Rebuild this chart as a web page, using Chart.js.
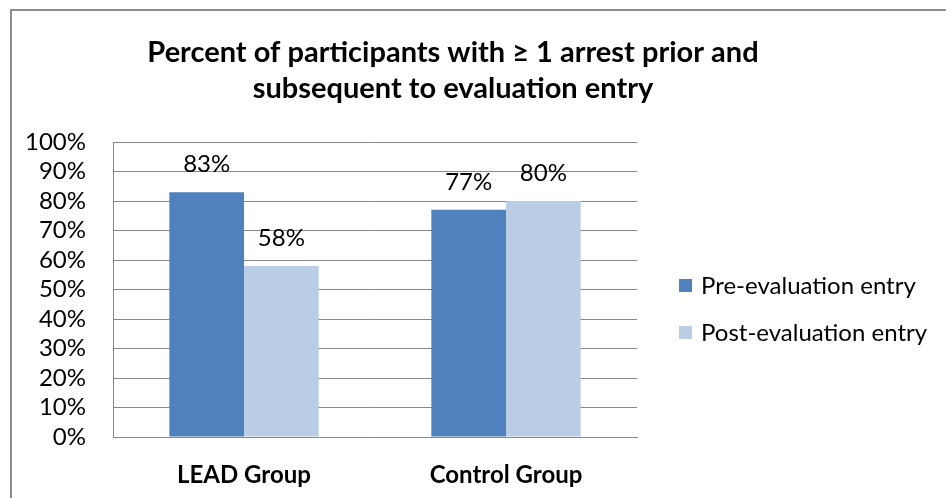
<!DOCTYPE html>
<html>
<head>
<meta charset="utf-8">
<script src="https://cdn.jsdelivr.net/npm/chart.js@4/dist/chart.umd.min.js"></script>
<style>
    html, body { margin: 0; padding: 0; background: #fff; }
    #wrap { position: relative; width: 946px; height: 498px; overflow: hidden; }
    #frame { position: absolute; left: 10px; top: 9px; width: 1000px; height: 600px;
             border-top: 2px solid #8c8c8c; border-left: 2px solid #8c8c8c; }
    canvas { position: absolute; left: 0; top: 0; }
</style>
</head>
<body>
<div id="wrap">
    <div id="frame"></div>
    <canvas id="arrestChart" width="946" height="498"></canvas>
</div>
<script>

const titleLines = ["Percent of participants with \u2265 1 arrest prior and", "subsequent to evaluation entry"];
const categories = ["LEAD Group", "Control Group"];
const seriesNames = ["Pre-evaluation entry", "Post-evaluation entry"];
const preValues = [83, 77];
const postValues = [58, 80];
const seriesColors = ["#4F81BD", "#B9CDE5"];
const yTicks = [0, 10, 20, 30, 40, 50, 60, 70, 80, 90, 100];

const FONT = "Lato, 'Open Sans', sans-serif";

// value labels over each bar
const barLabels = {
    id: "barLabels",
    afterDatasetsDraw(chart) {
        const ctx = chart.ctx;
        ctx.save();
        ctx.font = "24px " + FONT;
        ctx.fillStyle = "#000";
        ctx.textAlign = "center";
        ctx.textBaseline = "middle";
        chart.data.datasets.forEach((ds, i) => {
            chart.getDatasetMeta(i).data.forEach((bar, j) => {
                ctx.fillText(ds.data[j] + "%", bar.x, bar.y - 28);
            });
        });
        ctx.restore();
    }
};

// title and legend placed like the original
const decor = {
    id: "decor",
    afterDraw(chart) {
        const ctx = chart.ctx;
        ctx.save();
        ctx.fillStyle = "#000";
        ctx.textAlign = "center";
        ctx.textBaseline = "middle";
        ctx.font = "bold 29px " + FONT;
        titleLines.forEach((t, i) => ctx.fillText(t, 453, 53 + i * 36));

        ctx.font = "24px " + FONT;
        ctx.textAlign = "left";
        chart.data.datasets.forEach((ds, i) => {
            const y = 285 + i * 47;
            ctx.fillStyle = ds.backgroundColor;
            ctx.fillRect(679, y - 6, 13, 13);
            ctx.fillStyle = "#000";
            ctx.fillText(ds.label, 701, y + 1);
        });
        ctx.restore();
    }
};

document.addEventListener("DOMContentLoaded", function () {

    const ctx = document.getElementById("arrestChart").getContext("2d");

    new Chart(ctx, {
        type: "bar",
        data: {
            labels: categories,
            datasets: [
                { label: seriesNames[0], data: preValues, backgroundColor: seriesColors[0] },
                { label: seriesNames[1], data: postValues, backgroundColor: seriesColors[1] }
            ]
        },
        options: {
            responsive: false,
            animation: false,
            devicePixelRatio: 1,
            layout: { padding: { left: 0, right: 309, top: 142, bottom: 0 } },
            datasets: { bar: { categoryPercentage: 0.57, barPercentage: 1.0 } },
            plugins: {
                legend: { display: false },
                title: { display: false },
                tooltip: { enabled: false }
            },
            scales: {
                x: {
                    grid: { display: false, drawTicks: false },
                    border: { color: "#878787", width: 1 },
                    ticks: { color: "#000", padding: 24, font: { family: FONT, size: 24, weight: "bold" } },
                    afterFit(scale) { scale.height = 61; }
                },
                y: {
                    min: 0,
                    max: 100,
                    afterBuildTicks(scale) { scale.ticks = yTicks.map(v => ({ value: v })); },
                    grid: { color: "#878787", lineWidth: 1, drawTicks: false },
                    border: { color: "#878787", width: 1 },
                    ticks: {
                        color: "#000",
                        padding: 27,
                        autoSkip: false,
                        font: { family: FONT, size: 24 },
                        callback: v => v + "%"
                    },
                    afterFit(scale) { scale.width = 113; }
                }
            }
        },
        plugins: [barLabels, decor]
    });

});
</script>
</body>
</html>
